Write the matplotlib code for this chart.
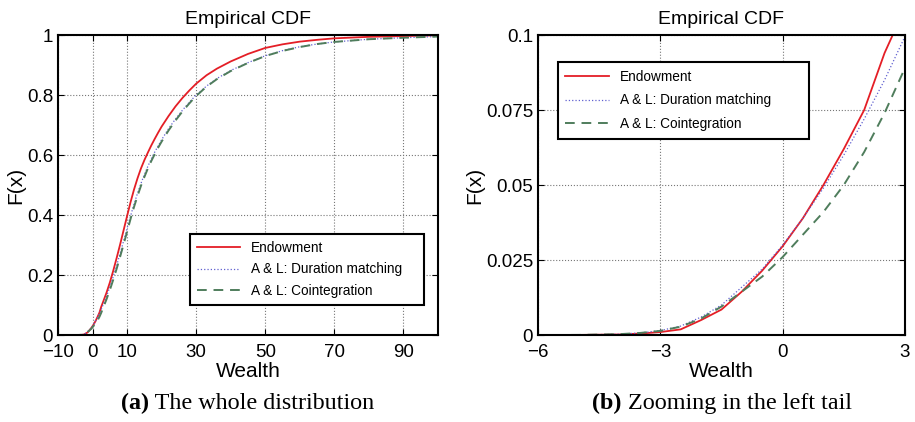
import matplotlib
matplotlib.use('Agg')
import matplotlib.pyplot as plt
import numpy as np

plt.rcParams['font.family'] = ['Liberation Sans', 'DejaVu Sans']

# wealth grid and read-off CDF values
wealth = [-6, -5, -4, -3.5, -3, -2.5, -2, -1.5, -1, -0.5, 0, 0.5, 1, 1.5, 2, 2.5, 3,
          4, 5, 6, 7, 8, 9, 10, 11, 12, 13, 14, 15, 16, 17, 18, 19, 20,
          22, 24, 26, 28, 30, 33, 36, 40, 45, 50, 55, 60, 65, 70, 80, 90, 100]
endowment = [0, 0.00005, 0.0002, 0.0005, 0.001, 0.0019, 0.005, 0.0085, 0.0145, 0.0215,
             0.0296, 0.039, 0.050, 0.062, 0.075, 0.094, 0.109,
             0.14, 0.175, 0.215, 0.258, 0.303, 0.35, 0.397, 0.443, 0.485, 0.522, 0.555,
             0.583, 0.608, 0.632, 0.654, 0.675, 0.695,
             0.73, 0.762, 0.79, 0.815, 0.838, 0.866, 0.888, 0.912, 0.937, 0.957,
             0.969, 0.978, 0.984, 0.989, 0.994, 0.9965, 0.999]
duration = [0, 0.00005, 0.0003, 0.0007, 0.0015, 0.003, 0.006, 0.010, 0.016, 0.022,
            0.030, 0.039, 0.049, 0.060, 0.072, 0.085, 0.0995,
            0.128, 0.16, 0.195, 0.233, 0.273, 0.314, 0.356, 0.397, 0.436, 0.472, 0.505,
            0.535, 0.562, 0.587, 0.61, 0.631, 0.651,
            0.688, 0.72, 0.749, 0.776, 0.8, 0.83, 0.855, 0.882, 0.908, 0.931,
            0.948, 0.961, 0.97, 0.977, 0.986, 0.991, 0.995]
cointegration = [0, 0.00005, 0.0003, 0.0007, 0.0014, 0.0028, 0.0055, 0.0095, 0.0145, 0.0195,
                 0.026, 0.0335, 0.041, 0.050, 0.061, 0.074, 0.089,
                 0.118, 0.15, 0.185, 0.222, 0.262, 0.303, 0.345, 0.387, 0.427, 0.463, 0.497,
                 0.527, 0.555, 0.58, 0.603, 0.625, 0.645,
                 0.682, 0.715, 0.745, 0.772, 0.797, 0.828, 0.853, 0.88, 0.907, 0.93,
                 0.947, 0.96, 0.97, 0.977, 0.986, 0.991, 0.995]

labels = ['Endowment', 'A & L: Duration matching', 'A & L: Cointegration']

fig = plt.figure(figsize=(9.15, 4.22), dpi=100)
ax1 = fig.add_axes([0.0634, 0.206, 0.4153, 0.711])
ax2 = fig.add_axes([0.588, 0.206, 0.401, 0.711])


def draw(ax):
    ax.plot(wealth, endowment, '-', color='#e41e26', lw=1.3, label=labels[0])
    ax.plot(wealth, duration, ':', color='#6060d0', lw=0.9, label=labels[1])
    ax.plot(wealth, cointegration, '--', color='#4f7d5c', lw=1.4, dashes=(5, 3.5), label=labels[2])
    ax.grid(True, linestyle=':', color='#777777', lw=0.8)
    ax.tick_params(direction='in', labelsize=13.5, top=True, right=True, length=4)
    ax.tick_params(axis='x', pad=6.5)
    for s in ax.spines.values():
        s.set_linewidth(1.5)
    ax.set_title('Empirical CDF', fontsize=14, pad=8)
    ax.set_xlabel('Wealth', fontsize=15, labelpad=1)
    ax.set_ylabel('F(x)', fontsize=15, labelpad=1)


draw(ax1)
ax1.set_xlim(-10, 100)
ax1.set_ylim(0, 1)
ax1.set_xticks([-10, 0, 10, 30, 50, 70, 90])
ax1.set_yticks([0, 0.2, 0.4, 0.6, 0.8, 1])
ax1.set_yticklabels(['0', '0.2', '0.4', '0.6', '0.8', '1'])
ax1.legend(loc='lower left', bbox_to_anchor=(0.347, 0.1, 0.616, 0.227), mode='expand',
           borderaxespad=0, fontsize=9.8, fancybox=False, edgecolor='black', framealpha=1,
           handlelength=3.2, borderpad=0.5, labelspacing=0.57).get_frame().set_linewidth(1.5)

draw(ax2)
ax2.set_xlim(-6, 3)
ax2.set_ylim(0, 0.1)
ax2.set_xticks([-6, -3, 0, 3])
ax2.set_yticks([0, 0.025, 0.05, 0.075, 0.1])
ax2.set_yticklabels(['0', '0.025', '0.05', '0.075', '0.1'])
ax2.legend(loc='upper left', bbox_to_anchor=(0.054, 0.653, 0.684, 0.257), mode='expand',
           borderaxespad=0, fontsize=9.8, fancybox=False, edgecolor='black', framealpha=1,
           handlelength=3.2, borderpad=0.55, labelspacing=0.72).get_frame().set_linewidth(1.5)

# captions: bold tag followed by regular text
fig.canvas.draw()
r = fig.canvas.get_renderer()
for cx, tag, txt in [(0.271, '(a)', ' The whole distribution'),
                     (0.789, '(b)', ' Zooming in the left tail')]:
    t1 = fig.text(0, 0.045, tag, fontsize=17.4, family='Liberation Serif', weight='bold', va='center')
    t2 = fig.text(0, 0.045, txt, fontsize=17.4, family='Liberation Serif', va='center')
    w1 = t1.get_window_extent(r).width / fig.bbox.width
    w2 = t2.get_window_extent(r).width / fig.bbox.width
    x0 = cx - (w1 + w2) / 2
    t1.set_x(x0)
    t2.set_x(x0 + w1)

fig.savefig('out.png', dpi=100)
